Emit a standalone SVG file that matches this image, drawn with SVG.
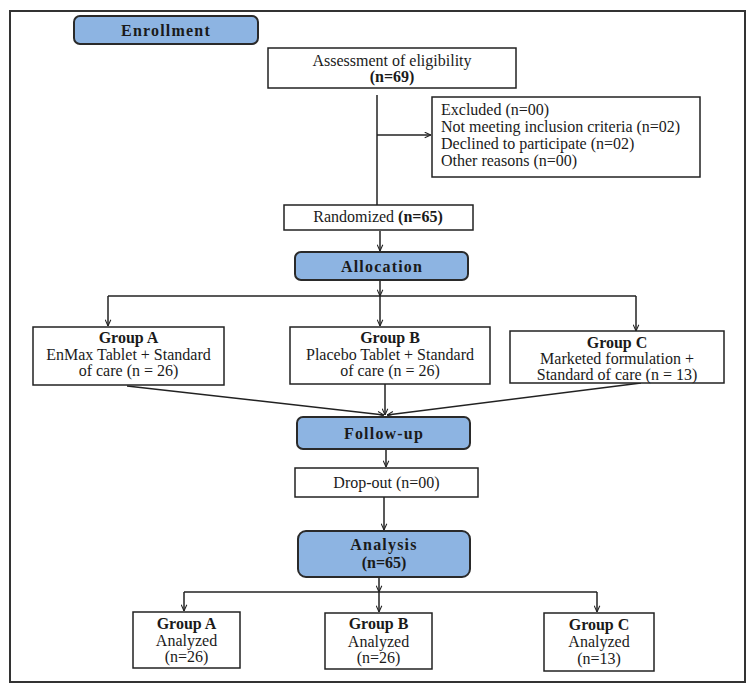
<svg xmlns="http://www.w3.org/2000/svg" width="750" height="693" viewBox="0 0 750 693">
<style>
text{font-family:"Liberation Serif","Times New Roman",serif;font-size:16px;fill:#1a1a1a}
.c{text-anchor:middle}
.b{font-weight:bold}
.h{font-weight:bold;letter-spacing:1.2px}
.box{fill:#fff;stroke:#222;stroke-width:1.5}
.hdr{fill:#8db4e2;stroke:#2a2a2a;stroke-width:2}
.ln{fill:none;stroke:#222;stroke-width:1.5}
</style>
<defs>
<marker id="arr" viewBox="0 0 10 10" refX="10" refY="5" markerWidth="7" markerHeight="7" orient="auto" markerUnits="userSpaceOnUse">
<path d="M1,1 L10,5 L1,9" fill="none" stroke="#222" stroke-width="1.5"/>
</marker>
</defs>
<rect x="10" y="11" width="735" height="671" fill="#fff" stroke="#333" stroke-width="2"/>
<g id="connectors">
<line class="ln" x1="377" y1="95" x2="377" y2="205" stroke-width="2.2"/>
<line class="ln" x1="377" y1="135" x2="431" y2="135" marker-end="url(#arr)"/>
<line class="ln" x1="380" y1="231" x2="380" y2="251" marker-end="url(#arr)"/>
<line class="ln" x1="380" y1="281" x2="380" y2="296" marker-end="url(#arr)"/>
<line class="ln" x1="108" y1="296" x2="636" y2="296"/>
<line class="ln" x1="108" y1="296" x2="108" y2="326" marker-end="url(#arr)"/>
<line class="ln" x1="380" y1="296" x2="380" y2="326" marker-end="url(#arr)"/>
<line class="ln" x1="636" y1="296" x2="636" y2="331" marker-end="url(#arr)"/>
<line class="ln" x1="127" y1="386" x2="384" y2="415" marker-end="url(#arr)"/>
<line class="ln" x1="385" y1="384" x2="385" y2="415" marker-end="url(#arr)"/>
<line class="ln" x1="641" y1="383" x2="387" y2="415" marker-end="url(#arr)"/>
<line class="ln" x1="386" y1="449" x2="386" y2="467" marker-end="url(#arr)"/>
<line class="ln" x1="384" y1="497" x2="384" y2="530" marker-end="url(#arr)"/>
<line class="ln" x1="379" y1="577" x2="379" y2="592" marker-end="url(#arr)"/>
<line class="ln" x1="184" y1="592" x2="597" y2="592"/>
<line class="ln" x1="184" y1="592" x2="184" y2="611" marker-end="url(#arr)"/>
<line class="ln" x1="379" y1="592" x2="379" y2="612" marker-end="url(#arr)"/>
<line class="ln" x1="597" y1="592" x2="597" y2="612" marker-end="url(#arr)"/>
</g>
<g id="enrollment">
<rect class="hdr" x="74" y="16" width="184" height="28" rx="6"/>
<text class="c h" x="166" y="36">Enrollment</text>
</g>
<g id="assessment">
<rect class="box" x="268" y="48" width="248" height="40"/>
<text class="c" x="392" y="66">Assessment of eligibility</text>
<text class="c b" x="392" y="82">(n=69)</text>
</g>
<g id="excluded">
<rect class="box" x="432" y="97" width="268" height="80"/>
<text x="441" y="115">Excluded (n=00)</text>
<text x="441" y="132">Not meeting inclusion criteria (n=02)</text>
<text x="441" y="149">Declined to participate (n=02)</text>
<text x="441" y="166">Other reasons (n=00)</text>
</g>
<g id="randomized">
<rect class="box" x="284" y="205" width="189" height="25"/>
<text class="c" x="378" y="222">Randomized <tspan class="b">(n=65)</tspan></text>
</g>
<g id="allocation">
<rect class="hdr" x="295" y="252" width="173" height="28" rx="6"/>
<text class="c h" x="382" y="272">Allocation</text>
</g>
<g id="groupA">
<rect class="box" x="33" y="327" width="191" height="58"/>
<text class="c b" x="128.5" y="343">Group A</text>
<text class="c" x="128.5" y="360">EnMax Tablet + Standard</text>
<text class="c" x="128.5" y="376">of care (n = 26)</text>
</g>
<g id="groupB">
<rect class="box" x="290" y="327" width="200" height="57"/>
<text class="c b" x="390" y="343">Group B</text>
<text class="c" x="390" y="360">Placebo Tablet + Standard</text>
<text class="c" x="390" y="376">of care (n = 26)</text>
</g>
<g id="groupC">
<rect class="box" x="510" y="331" width="214" height="52"/>
<text class="c b" x="617" y="348">Group C</text>
<text class="c" x="617" y="364">Marketed formulation +</text>
<text class="c" x="617" y="380">Standard of care (n = 13)</text>
</g>
<g id="followup">
<rect class="hdr" x="297" y="417" width="173" height="32" rx="6"/>
<text class="c h" x="384" y="439">Follow-up</text>
</g>
<g id="dropout">
<rect class="box" x="295" y="468" width="183" height="29"/>
<text class="c" x="386.5" y="488">Drop-out (n=00)</text>
</g>
<g id="analysis">
<rect class="hdr" x="298" y="531" width="172" height="46" rx="8"/>
<text class="c h" x="384" y="550">Analysis</text>
<text class="c b" x="384" y="568">(n=65)</text>
</g>
<g id="analyzedA">
<rect class="box" x="133" y="612" width="107" height="56"/>
<text class="c b" x="186.5" y="629">Group A</text>
<text class="c" x="186.5" y="646">Analyzed</text>
<text class="c" x="186.5" y="662">(n=26)</text>
</g>
<g id="analyzedB">
<rect class="box" x="325" y="613" width="107" height="56" stroke-width="2.2"/>
<text class="c b" x="378.5" y="629">Group B</text>
<text class="c" x="378.5" y="647">Analyzed</text>
<text class="c" x="378.5" y="663">(n=26)</text>
</g>
<g id="analyzedC">
<rect class="box" x="544" y="613" width="110" height="58"/>
<text class="c b" x="599" y="630">Group C</text>
<text class="c" x="599" y="647">Analyzed</text>
<text class="c" x="599" y="664">(n=13)</text>
</g>
</svg>
